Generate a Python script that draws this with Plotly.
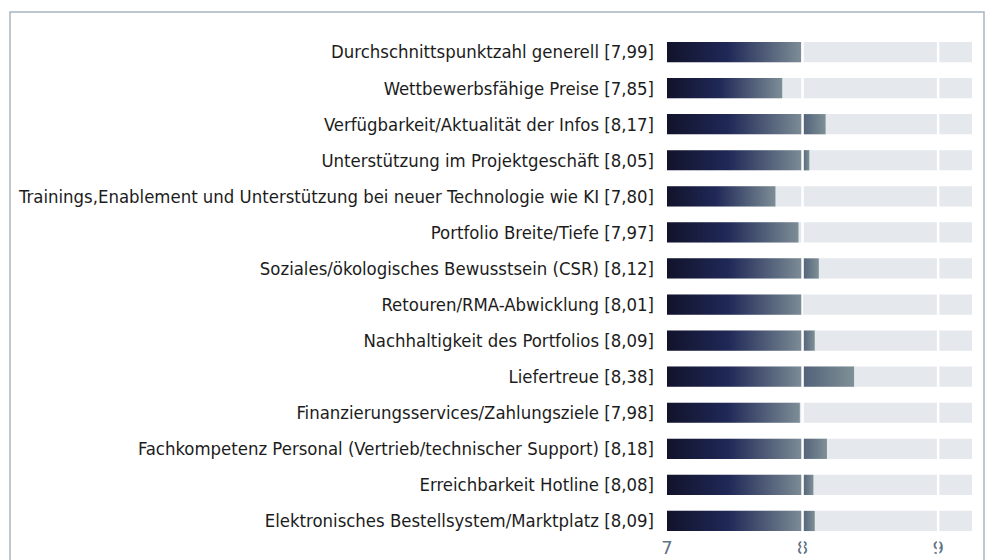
import plotly.graph_objects as go

# Survey categories (top to bottom) and their average scores
categories = [
    "Durchschnittspunktzahl generell",
    "Wettbewerbsfähige Preise",
    "Verfügbarkeit/Aktualität der Infos",
    "Unterstützung im Projektgeschäft",
    "Trainings,Enablement und Unterstützung bei neuer Technologie wie KI",
    "Portfolio Breite/Tiefe",
    "Soziales/ökologisches Bewusstsein (CSR)",
    "Retouren/RMA-Abwicklung",
    "Nachhaltigkeit des Portfolios",
    "Liefertreue",
    "Finanzierungsservices/Zahlungsziele",
    "Fachkompetenz Personal (Vertrieb/technischer Support)",
    "Erreichbarkeit Hotline",
    "Elektronisches Bestellsystem/Marktplatz",
]
scores = [7.99, 7.85, 8.17, 8.05, 7.80, 7.97, 8.12, 8.01, 8.09, 8.38, 7.98, 8.18, 8.08, 8.09]
x_ticks = [7, 8, 9]

AXIS_MIN = 7.0
AXIS_MAX = 9.25
SPLIT = 8.0
HALF = 0.28

W, H = 987, 560

def fmt(v):
    return f"{v:.2f}".replace(".", ",")

labels = [f"{c} [{fmt(s)}]" for c, s in zip(categories, scores)]
rows = list(range(len(categories)))

fig = go.Figure()

# light track behind every bar
fig.add_trace(go.Bar(
    y=rows, x=[AXIS_MAX - AXIS_MIN] * len(rows), base=AXIS_MIN,
    orientation="h", width=2 * HALF,
    marker=dict(color="#e5e8ec", line_width=0),
    hoverinfo="skip", showlegend=False,
))

main_scale = [[0, "#12132a"], [0.45, "#1f2857"], [1, "#7d8d96"]]
upper_scale = [[0, "#526179"], [1, "#7e9096"]]

for i, s in enumerate(scores):
    x1 = min(s, SPLIT)
    fig.add_trace(go.Scatter(
        x=[AXIS_MIN, x1, x1, AXIS_MIN, AXIS_MIN],
        y=[i - HALF, i - HALF, i + HALF, i + HALF, i - HALF],
        mode="lines", line=dict(width=0), fill="toself",
        fillgradient=dict(type="horizontal", colorscale=main_scale,
                          start=AXIS_MIN, stop=x1),
        hoverinfo="skip", showlegend=False,
    ))
    if s > SPLIT:
        fig.add_trace(go.Scatter(
            x=[SPLIT, s, s, SPLIT, SPLIT],
            y=[i - HALF, i - HALF, i + HALF, i + HALF, i - HALF],
            mode="lines", line=dict(width=0), fill="toself",
            fillgradient=dict(type="horizontal", colorscale=upper_scale,
                              start=SPLIT, stop=s),
            hoverinfo="skip", showlegend=False,
        ))

shapes = []
# white separators at the whole-number ticks
for t in x_ticks[1:]:
    shapes.append(dict(type="line", xref="x", yref="paper", x0=t, x1=t,
                       y0=0, y1=1, line=dict(color="white", width=2.5),
                       layer="above"))
# outer frame
shapes.append(dict(type="rect", xref="paper", yref="paper",
                   x0=10 / W, x1=984 / W, y0=-0.05, y1=1 - 12 / H,
                   line=dict(color="#a8b5c1", width=1.5), layer="above"))

fig.update_layout(
    width=W, height=H,
    margin=dict(l=0, r=0, t=0, b=0, autoexpand=False),
    paper_bgcolor="white", plot_bgcolor="white",
    barmode="overlay",
    shapes=shapes,
    xaxis=dict(domain=[667 / W, 972 / W], range=[AXIS_MIN, AXIS_MAX],
               tickvals=x_ticks, ticktext=[str(t) for t in x_ticks],
               showgrid=False, zeroline=False, ticks="", automargin=False,
               ticklabelstandoff=-4,
               tickfont=dict(family="DejaVu Sans", size=18, color="#5f7282")),
    yaxis=dict(domain=[21 / H, 526 / H], range=[13.5, -0.5],
               tickvals=rows, ticktext=labels,
               showgrid=False, zeroline=False, ticks="", automargin=False,
               ticklabelstandoff=12,
               tickfont=dict(family="DejaVu Sans Condensed", size=18.4, color="#1c1c1c")),
)

fig.write_html("out.html")
